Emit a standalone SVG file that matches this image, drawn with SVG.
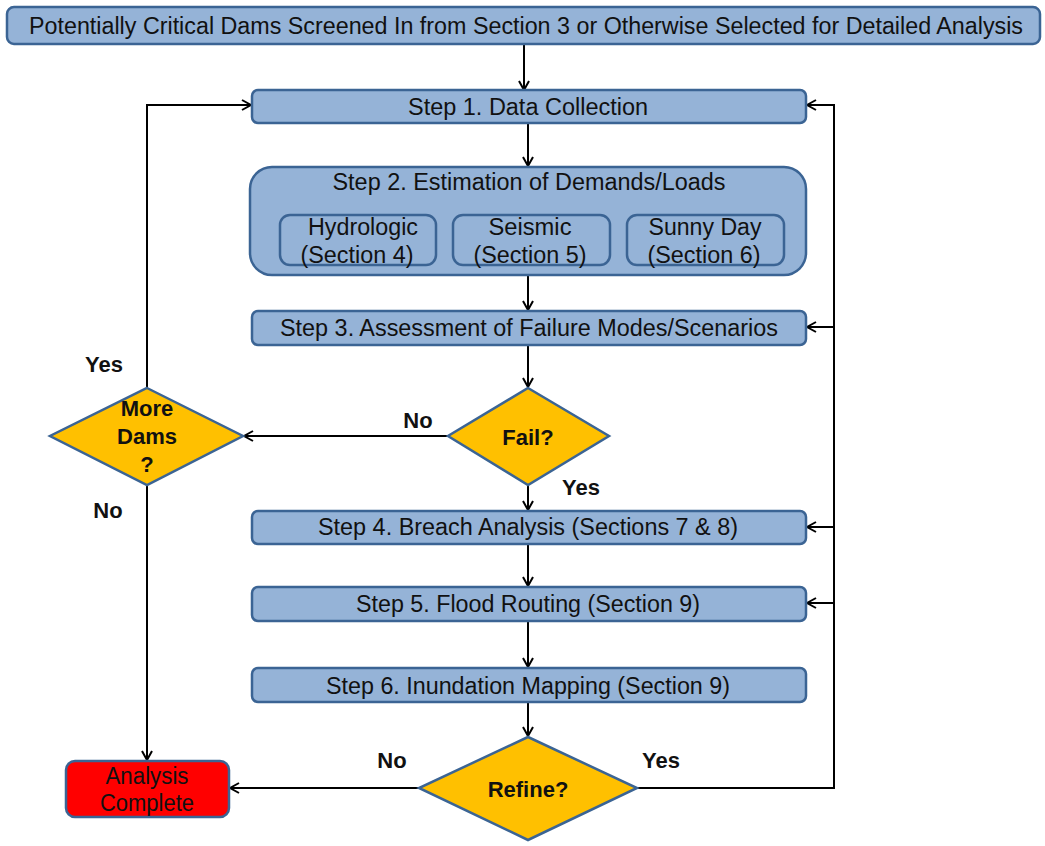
<svg xmlns="http://www.w3.org/2000/svg" width="1045" height="846" viewBox="0 0 1045 846">
<style>
.box{fill:#95B3D7;stroke:#3B6494;stroke-width:2.5}
.dia{fill:#FFC000;stroke:#3B6494;stroke-width:2.5}
.red{fill:#FF0000;stroke:#3B6494;stroke-width:2.5}
.t{font-family:"Liberation Sans",Arial,sans-serif;font-size:23px;fill:#111;text-anchor:middle}
.b{font-family:"Liberation Sans",Arial,sans-serif;font-size:22px;font-weight:bold;fill:#111;text-anchor:middle}
.c{fill:none;stroke:#000;stroke-width:2}
</style>
<defs>
<marker id="ar" markerWidth="12" markerHeight="12" refX="10" refY="6" orient="auto" markerUnits="userSpaceOnUse">
<path d="M1,1 L10,6 L1,11" fill="none" stroke="#000" stroke-width="2"/>
</marker>
</defs>
<rect width="1045" height="846" fill="#fff"/>
<g id="connectors">
<path class="c" d="M524,44 V90" marker-end="url(#ar)"/>
<path class="c" d="M528,123 V166" marker-end="url(#ar)"/>
<path class="c" d="M528,275 V310" marker-end="url(#ar)"/>
<path class="c" d="M528,345 V387" marker-end="url(#ar)"/>
<path class="c" d="M448,436 H244" marker-end="url(#ar)"/>
<path class="c" d="M528,485 V510" marker-end="url(#ar)"/>
<path class="c" d="M528,544 V586" marker-end="url(#ar)"/>
<path class="c" d="M528,621 V667" marker-end="url(#ar)"/>
<path class="c" d="M528,702 V736" marker-end="url(#ar)"/>
<path class="c" d="M419,788 H230" marker-end="url(#ar)"/>
<path class="c" d="M637,788 H834 V105 H807" marker-end="url(#ar)"/>
<path class="c" d="M834,327 H807" marker-end="url(#ar)"/>
<path class="c" d="M834,527 H807" marker-end="url(#ar)"/>
<path class="c" d="M834,603 H807" marker-end="url(#ar)"/>
<path class="c" d="M147,388 V105 H251" marker-end="url(#ar)"/>
<path class="c" d="M147,485 V760" marker-end="url(#ar)"/>
<text class="b" x="104" y="372">Yes</text>
<text class="b" x="418" y="428">No</text>
<text class="b" x="581" y="495">Yes</text>
<text class="b" x="108" y="518">No</text>
<text class="b" x="392" y="768">No</text>
<text class="b" x="661" y="768">Yes</text>
</g>
<g id="start">
<rect class="box" x="7" y="7" width="1033" height="37" rx="7"/>
<text class="t" x="526" y="34" textLength="994" lengthAdjust="spacingAndGlyphs">Potentially Critical Dams Screened In from Section 3 or Otherwise Selected for Detailed Analysis</text>
</g>
<g id="step1">
<rect class="box" x="252" y="90" width="554" height="33" rx="6"/>
<text class="t" x="528" y="115" textLength="240" lengthAdjust="spacingAndGlyphs">Step 1. Data Collection</text>
</g>
<g id="step2">
<rect class="box" x="250" y="167" width="556" height="108" rx="22"/>
<text class="t" x="529" y="190" textLength="393" lengthAdjust="spacingAndGlyphs">Step 2. Estimation of Demands/Loads</text>
</g>
<g id="hydrologic">
<rect class="box" x="280" y="215" width="156" height="50" rx="10"/>
<text class="t" x="363" y="235" textLength="110" lengthAdjust="spacingAndGlyphs">Hydrologic</text>
<text class="t" x="357" y="263" textLength="113" lengthAdjust="spacingAndGlyphs">(Section 4)</text>
</g>
<g id="seismic">
<rect class="box" x="453" y="215" width="157" height="50" rx="10"/>
<text class="t" x="530" y="235" textLength="83" lengthAdjust="spacingAndGlyphs">Seismic</text>
<text class="t" x="530" y="263" textLength="113" lengthAdjust="spacingAndGlyphs">(Section 5)</text>
</g>
<g id="sunnyday">
<rect class="box" x="627" y="215" width="157" height="50" rx="10"/>
<text class="t" x="705" y="235" textLength="113" lengthAdjust="spacingAndGlyphs">Sunny Day</text>
<text class="t" x="704" y="263" textLength="113" lengthAdjust="spacingAndGlyphs">(Section 6)</text>
</g>
<g id="step3">
<rect class="box" x="252" y="311" width="554" height="34" rx="6"/>
<text class="t" x="529" y="336" textLength="498" lengthAdjust="spacingAndGlyphs">Step 3. Assessment of Failure Modes/Scenarios</text>
</g>
<g id="fail">
<polygon class="dia" points="528,388 609,436 528,485 448,436"/>
<text class="b" x="528" y="445">Fail?</text>
</g>
<g id="moredams">
<polygon class="dia" points="147,388 243,436 147,485 50,436"/>
<text class="b" x="147" y="416">More</text>
<text class="b" x="147" y="444">Dams</text>
<text class="b" x="147" y="472">?</text>
</g>
<g id="step4">
<rect class="box" x="252" y="511" width="554" height="33" rx="6"/>
<text class="t" x="528" y="535" textLength="420" lengthAdjust="spacingAndGlyphs">Step 4. Breach Analysis (Sections 7 &amp; 8)</text>
</g>
<g id="step5">
<rect class="box" x="252" y="587" width="554" height="34" rx="6"/>
<text class="t" x="528" y="612" textLength="344" lengthAdjust="spacingAndGlyphs">Step 5. Flood Routing (Section 9)</text>
</g>
<g id="step6">
<rect class="box" x="252" y="668" width="554" height="34" rx="6"/>
<text class="t" x="528" y="694" textLength="404" lengthAdjust="spacingAndGlyphs">Step 6. Inundation Mapping (Section 9)</text>
</g>
<g id="refine">
<polygon class="dia" points="528,737 637,788 528,840 419,788"/>
<text class="b" x="528" y="797">Refine?</text>
</g>
<g id="complete">
<rect class="red" x="66" y="761" width="163" height="56" rx="9"/>
<text class="t" x="147" y="784" textLength="83" lengthAdjust="spacingAndGlyphs">Analysis</text>
<text class="t" x="147" y="811" textLength="94" lengthAdjust="spacingAndGlyphs">Complete</text>
</g>
</svg>
